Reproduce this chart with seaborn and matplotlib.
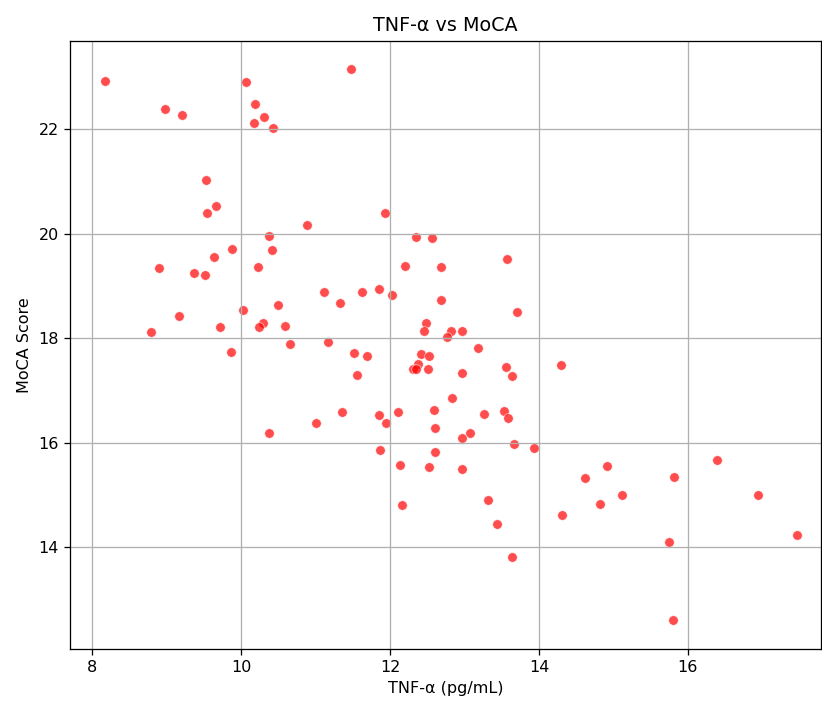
import pandas as pd
import seaborn as sns
import matplotlib
matplotlib.use("Agg")
import matplotlib.pyplot as plt

# Valores
tnf_alpha = [
    8.17, 8.98, 9.21, 10.06, 10.19, 10.31, 10.17, 10.43, 11.47, 9.53,
    9.66, 9.54, 10.88, 11.93, 10.37, 10.41, 9.88, 9.63, 10.22, 8.90,
    9.37, 9.51, 12.35, 12.56, 12.20, 12.69, 11.11, 11.33, 11.62, 11.85,
    12.03, 12.69, 10.02, 10.50, 9.17, 8.79, 9.71, 10.29, 10.24, 10.59,
    12.48, 12.46, 13.57, 13.71, 12.82, 12.97, 12.77, 9.86, 10.65, 11.16,
    11.52, 11.69, 11.56, 12.42, 12.52, 12.38, 12.31, 12.35, 12.51, 11.36,
    11.00, 10.37, 11.85, 11.95, 12.11, 12.59, 12.61, 11.86, 12.13, 12.61,
    12.52, 12.16, 13.18, 14.29, 12.97, 13.56, 13.64, 12.83, 13.26, 13.53,
    13.59, 13.07, 12.97, 13.67, 13.93, 12.97, 13.31, 13.43, 13.64, 14.92,
    14.62, 15.11, 14.82, 14.31, 15.81, 15.75, 15.80, 16.39, 16.94, 17.46,
]
moca_score = [
    22.92, 22.38, 22.28, 22.90, 22.48, 22.23, 22.11, 22.02, 23.15, 21.02,
    20.53, 20.39, 20.17, 20.40, 19.96, 19.69, 19.71, 19.56, 19.36, 19.34,
    19.24, 19.21, 19.94, 19.92, 19.39, 19.36, 18.89, 18.68, 18.89, 18.94,
    18.83, 18.74, 18.54, 18.64, 18.43, 18.11, 18.21, 18.29, 18.21, 18.24,
    18.29, 18.13, 19.52, 18.51, 18.14, 18.14, 18.03, 17.74, 17.89, 17.93,
    17.71, 17.66, 17.30, 17.69, 17.66, 17.51, 17.41, 17.42, 17.41, 16.58,
    16.38, 16.18, 16.53, 16.38, 16.58, 16.63, 16.28, 15.87, 15.58, 15.82,
    15.53, 14.80, 17.81, 17.48, 17.34, 17.44, 17.28, 16.86, 16.55, 16.60,
    16.48, 16.18, 16.09, 15.98, 15.90, 15.50, 14.90, 14.44, 13.82, 15.55,
    15.32, 15.00, 14.83, 14.62, 15.35, 14.10, 12.61, 15.67, 15.00, 14.24,
]

df = pd.DataFrame({'TNF-α (pg/mL)': tnf_alpha, 'MoCA Score': moca_score})

dpi = 115
fig = plt.figure(figsize=(822 / dpi, 705 / dpi), dpi=dpi)
ax = sns.scatterplot(x='TNF-α (pg/mL)', y='MoCA Score', data=df,
                     color='red', alpha=0.7)

plt.title('TNF-α vs MoCA')
plt.xlabel('TNF-α (pg/mL)')
plt.ylabel('MoCA Score')
plt.grid(True)
ax.set_xlim(7.70, 17.79)
ax.set_ylim(12.06, 23.69)
plt.subplots_adjust(left=0.085, right=0.999, top=0.942, bottom=0.08)
plt.savefig('out.png', dpi=dpi)
